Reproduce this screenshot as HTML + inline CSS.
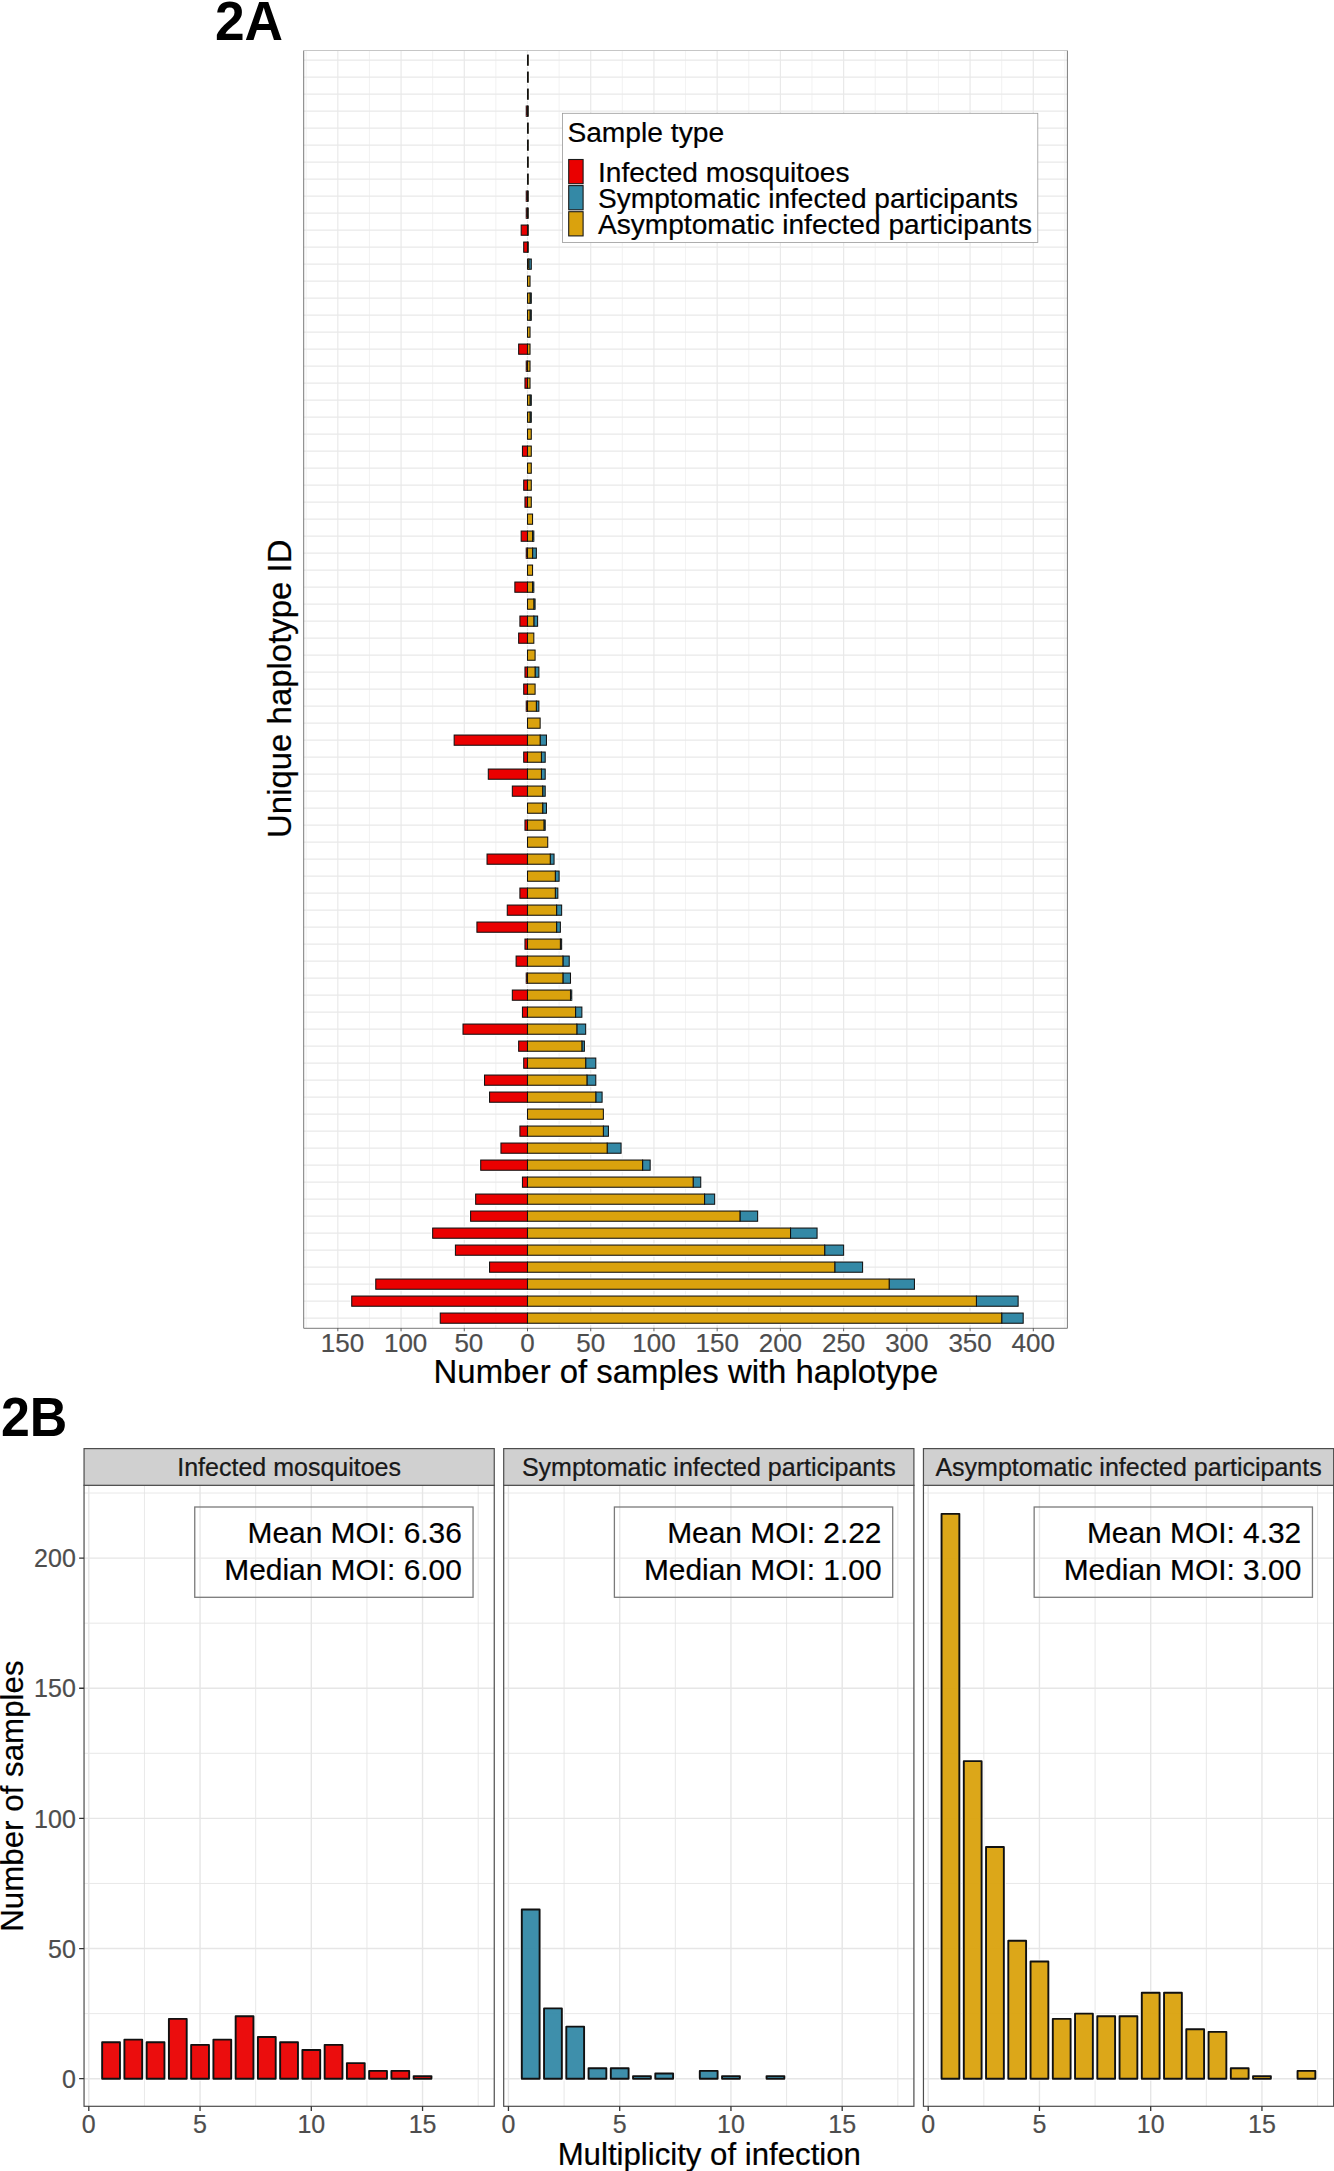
<!DOCTYPE html>
<html lang="en"><head><meta charset="utf-8"><title>Figure 2</title>
<style>
html,body{margin:0;padding:0;background:#fff;}
body{width:1334px;height:2171px;overflow:hidden;}
svg{display:block;font-family:"Liberation Sans", Arial, Helvetica, sans-serif;}
svg text{stroke:#000;stroke-width:0.2px;}
svg g.tk text{stroke:#4D4D4D;}

</style></head><body>
<svg width="1334" height="2171" viewBox="0 0 1334 2171">
<rect width="1334" height="2171" fill="#fff"/>
<rect x="303.7" y="50.5" width="763.70" height="1277.80" fill="#fff"/>
<path d="M306.21 50.5V1328.3M369.44 50.5V1328.3M432.66 50.5V1328.3M495.89 50.5V1328.3M559.11 50.5V1328.3M622.34 50.5V1328.3M685.56 50.5V1328.3M748.79 50.5V1328.3M812.01 50.5V1328.3M875.24 50.5V1328.3M938.46 50.5V1328.3M1001.69 50.5V1328.3M1064.91 50.5V1328.3" stroke="#E9E9E9" stroke-width="0.6" fill="none"/>
<path d="M337.83 50.5V1328.3M401.05 50.5V1328.3M464.27 50.5V1328.3M527.50 50.5V1328.3M590.73 50.5V1328.3M653.95 50.5V1328.3M717.17 50.5V1328.3M780.40 50.5V1328.3M843.62 50.5V1328.3M906.85 50.5V1328.3M970.08 50.5V1328.3M1033.30 50.5V1328.3M303.7 60.15H1067.4M303.7 77.15H1067.4M303.7 94.15H1067.4M303.7 111.15H1067.4M303.7 128.15H1067.4M303.7 145.15H1067.4M303.7 162.15H1067.4M303.7 179.15H1067.4M303.7 196.15H1067.4M303.7 213.15H1067.4M303.7 230.15H1067.4M303.7 247.15H1067.4M303.7 264.15H1067.4M303.7 281.15H1067.4M303.7 298.15H1067.4M303.7 315.15H1067.4M303.7 332.15H1067.4M303.7 349.15H1067.4M303.7 366.15H1067.4M303.7 383.15H1067.4M303.7 400.15H1067.4M303.7 417.15H1067.4M303.7 434.15H1067.4M303.7 451.15H1067.4M303.7 468.15H1067.4M303.7 485.15H1067.4M303.7 502.15H1067.4M303.7 519.15H1067.4M303.7 536.15H1067.4M303.7 553.15H1067.4M303.7 570.15H1067.4M303.7 587.15H1067.4M303.7 604.15H1067.4M303.7 621.15H1067.4M303.7 638.15H1067.4M303.7 655.15H1067.4M303.7 672.15H1067.4M303.7 689.15H1067.4M303.7 706.15H1067.4M303.7 723.15H1067.4M303.7 740.15H1067.4M303.7 757.15H1067.4M303.7 774.15H1067.4M303.7 791.15H1067.4M303.7 808.15H1067.4M303.7 825.15H1067.4M303.7 842.15H1067.4M303.7 859.15H1067.4M303.7 876.15H1067.4M303.7 893.15H1067.4M303.7 910.15H1067.4M303.7 927.15H1067.4M303.7 944.15H1067.4M303.7 961.15H1067.4M303.7 978.15H1067.4M303.7 995.15H1067.4M303.7 1012.15H1067.4M303.7 1029.15H1067.4M303.7 1046.15H1067.4M303.7 1063.15H1067.4M303.7 1080.15H1067.4M303.7 1097.15H1067.4M303.7 1114.15H1067.4M303.7 1131.15H1067.4M303.7 1148.15H1067.4M303.7 1165.15H1067.4M303.7 1182.15H1067.4M303.7 1199.15H1067.4M303.7 1216.15H1067.4M303.7 1233.15H1067.4M303.7 1250.15H1067.4M303.7 1267.15H1067.4M303.7 1284.15H1067.4M303.7 1301.15H1067.4M303.7 1318.15H1067.4" stroke="#E9E9E9" stroke-width="1.2" fill="none"/>
<g stroke="#fff" stroke-width="3.05" fill="#fff"><rect x="527.50" y="55.05" width="0.76" height="10.2"/><rect x="527.50" y="72.05" width="0.76" height="10.2"/><rect x="527.50" y="89.05" width="0.76" height="10.2"/><rect x="526.24" y="106.05" width="1.26" height="10.2"/><rect x="527.50" y="106.05" width="0.76" height="10.2"/><rect x="527.50" y="123.05" width="0.76" height="10.2"/><rect x="527.50" y="140.05" width="0.76" height="10.2"/><rect x="527.50" y="157.05" width="0.76" height="10.2"/><rect x="527.50" y="174.05" width="0.76" height="10.2"/><rect x="526.24" y="191.05" width="1.26" height="10.2"/><rect x="527.50" y="191.05" width="0.76" height="10.2"/><rect x="526.24" y="208.05" width="1.26" height="10.2"/><rect x="527.50" y="208.05" width="0.76" height="10.2"/><rect x="521.18" y="225.05" width="6.32" height="10.2"/><rect x="527.50" y="225.05" width="0.76" height="10.2"/><rect x="523.71" y="242.05" width="3.79" height="10.2"/><rect x="527.50" y="242.05" width="0.76" height="10.2"/><rect x="528.76" y="259.05" width="2.53" height="10.2"/><rect x="527.50" y="259.05" width="1.26" height="10.2"/><rect x="527.50" y="276.05" width="2.53" height="10.2"/><rect x="530.03" y="293.05" width="1.26" height="10.2"/><rect x="527.50" y="293.05" width="2.53" height="10.2"/><rect x="530.03" y="310.05" width="1.26" height="10.2"/><rect x="527.50" y="310.05" width="2.53" height="10.2"/><rect x="527.50" y="327.05" width="2.53" height="10.2"/><rect x="518.65" y="344.05" width="8.85" height="10.2"/><rect x="527.50" y="344.05" width="2.53" height="10.2"/><rect x="526.24" y="361.05" width="1.26" height="10.2"/><rect x="527.50" y="361.05" width="2.53" height="10.2"/><rect x="524.97" y="378.05" width="2.53" height="10.2"/><rect x="527.50" y="378.05" width="2.53" height="10.2"/><rect x="530.03" y="395.05" width="1.26" height="10.2"/><rect x="527.50" y="395.05" width="2.53" height="10.2"/><rect x="530.03" y="412.05" width="1.26" height="10.2"/><rect x="527.50" y="412.05" width="2.53" height="10.2"/><rect x="527.50" y="429.05" width="3.79" height="10.2"/><rect x="522.44" y="446.05" width="5.06" height="10.2"/><rect x="527.50" y="446.05" width="3.79" height="10.2"/><rect x="527.50" y="463.05" width="3.79" height="10.2"/><rect x="523.71" y="480.05" width="3.79" height="10.2"/><rect x="527.50" y="480.05" width="3.79" height="10.2"/><rect x="524.97" y="497.05" width="2.53" height="10.2"/><rect x="527.50" y="497.05" width="3.79" height="10.2"/><rect x="527.50" y="514.05" width="5.06" height="10.2"/><rect x="521.18" y="531.05" width="6.32" height="10.2"/><rect x="532.56" y="531.05" width="1.26" height="10.2"/><rect x="527.50" y="531.05" width="5.06" height="10.2"/><rect x="526.24" y="548.05" width="1.26" height="10.2"/><rect x="532.56" y="548.05" width="3.79" height="10.2"/><rect x="527.50" y="548.05" width="5.06" height="10.2"/><rect x="527.50" y="565.05" width="5.06" height="10.2"/><rect x="514.86" y="582.05" width="12.64" height="10.2"/><rect x="532.56" y="582.05" width="1.26" height="10.2"/><rect x="527.50" y="582.05" width="5.06" height="10.2"/><rect x="533.82" y="599.05" width="1.26" height="10.2"/><rect x="527.50" y="599.05" width="6.32" height="10.2"/><rect x="519.91" y="616.05" width="7.59" height="10.2"/><rect x="533.82" y="616.05" width="3.79" height="10.2"/><rect x="527.50" y="616.05" width="6.32" height="10.2"/><rect x="518.65" y="633.05" width="8.85" height="10.2"/><rect x="527.50" y="633.05" width="6.32" height="10.2"/><rect x="527.50" y="650.05" width="7.59" height="10.2"/><rect x="524.97" y="667.05" width="2.53" height="10.2"/><rect x="535.09" y="667.05" width="3.79" height="10.2"/><rect x="527.50" y="667.05" width="7.59" height="10.2"/><rect x="523.71" y="684.05" width="3.79" height="10.2"/><rect x="527.50" y="684.05" width="7.59" height="10.2"/><rect x="526.24" y="701.05" width="1.26" height="10.2"/><rect x="536.35" y="701.05" width="2.53" height="10.2"/><rect x="527.50" y="701.05" width="8.85" height="10.2"/><rect x="527.50" y="718.05" width="12.64" height="10.2"/><rect x="454.16" y="735.05" width="73.34" height="10.2"/><rect x="540.14" y="735.05" width="6.32" height="10.2"/><rect x="527.50" y="735.05" width="12.64" height="10.2"/><rect x="523.71" y="752.05" width="3.79" height="10.2"/><rect x="541.41" y="752.05" width="3.79" height="10.2"/><rect x="527.50" y="752.05" width="13.91" height="10.2"/><rect x="488.30" y="769.05" width="39.20" height="10.2"/><rect x="541.41" y="769.05" width="3.79" height="10.2"/><rect x="527.50" y="769.05" width="13.91" height="10.2"/><rect x="512.33" y="786.05" width="15.17" height="10.2"/><rect x="542.67" y="786.05" width="2.53" height="10.2"/><rect x="527.50" y="786.05" width="15.17" height="10.2"/><rect x="542.67" y="803.05" width="3.79" height="10.2"/><rect x="527.50" y="803.05" width="15.17" height="10.2"/><rect x="524.97" y="820.05" width="2.53" height="10.2"/><rect x="543.94" y="820.05" width="1.26" height="10.2"/><rect x="527.50" y="820.05" width="16.44" height="10.2"/><rect x="527.50" y="837.05" width="20.23" height="10.2"/><rect x="487.04" y="854.05" width="40.46" height="10.2"/><rect x="550.26" y="854.05" width="3.79" height="10.2"/><rect x="527.50" y="854.05" width="22.76" height="10.2"/><rect x="555.32" y="871.05" width="3.79" height="10.2"/><rect x="527.50" y="871.05" width="27.82" height="10.2"/><rect x="519.91" y="888.05" width="7.59" height="10.2"/><rect x="555.32" y="888.05" width="2.53" height="10.2"/><rect x="527.50" y="888.05" width="27.82" height="10.2"/><rect x="507.27" y="905.05" width="20.23" height="10.2"/><rect x="556.58" y="905.05" width="5.06" height="10.2"/><rect x="527.50" y="905.05" width="29.08" height="10.2"/><rect x="476.92" y="922.05" width="50.58" height="10.2"/><rect x="556.58" y="922.05" width="3.79" height="10.2"/><rect x="527.50" y="922.05" width="29.08" height="10.2"/><rect x="524.97" y="939.05" width="2.53" height="10.2"/><rect x="560.38" y="939.05" width="1.26" height="10.2"/><rect x="527.50" y="939.05" width="32.88" height="10.2"/><rect x="516.12" y="956.05" width="11.38" height="10.2"/><rect x="562.91" y="956.05" width="6.32" height="10.2"/><rect x="527.50" y="956.05" width="35.41" height="10.2"/><rect x="526.24" y="973.05" width="1.26" height="10.2"/><rect x="562.91" y="973.05" width="7.59" height="10.2"/><rect x="527.50" y="973.05" width="35.41" height="10.2"/><rect x="512.33" y="990.05" width="15.17" height="10.2"/><rect x="570.49" y="990.05" width="1.26" height="10.2"/><rect x="527.50" y="990.05" width="42.99" height="10.2"/><rect x="522.44" y="1007.05" width="5.06" height="10.2"/><rect x="575.55" y="1007.05" width="6.32" height="10.2"/><rect x="527.50" y="1007.05" width="48.05" height="10.2"/><rect x="463.01" y="1024.05" width="64.49" height="10.2"/><rect x="576.82" y="1024.05" width="8.85" height="10.2"/><rect x="527.50" y="1024.05" width="49.32" height="10.2"/><rect x="518.65" y="1041.05" width="8.85" height="10.2"/><rect x="581.87" y="1041.05" width="2.53" height="10.2"/><rect x="527.50" y="1041.05" width="54.37" height="10.2"/><rect x="523.71" y="1058.05" width="3.79" height="10.2"/><rect x="585.67" y="1058.05" width="10.12" height="10.2"/><rect x="527.50" y="1058.05" width="58.17" height="10.2"/><rect x="484.51" y="1075.05" width="42.99" height="10.2"/><rect x="586.93" y="1075.05" width="8.85" height="10.2"/><rect x="527.50" y="1075.05" width="59.43" height="10.2"/><rect x="489.56" y="1092.05" width="37.94" height="10.2"/><rect x="595.78" y="1092.05" width="6.32" height="10.2"/><rect x="527.50" y="1092.05" width="68.28" height="10.2"/><rect x="527.50" y="1109.05" width="75.87" height="10.2"/><rect x="519.91" y="1126.05" width="7.59" height="10.2"/><rect x="603.37" y="1126.05" width="5.06" height="10.2"/><rect x="527.50" y="1126.05" width="75.87" height="10.2"/><rect x="500.95" y="1143.05" width="26.55" height="10.2"/><rect x="607.16" y="1143.05" width="13.91" height="10.2"/><rect x="527.50" y="1143.05" width="79.66" height="10.2"/><rect x="480.71" y="1160.05" width="46.79" height="10.2"/><rect x="642.57" y="1160.05" width="7.59" height="10.2"/><rect x="527.50" y="1160.05" width="115.07" height="10.2"/><rect x="522.44" y="1177.05" width="5.06" height="10.2"/><rect x="693.15" y="1177.05" width="7.59" height="10.2"/><rect x="527.50" y="1177.05" width="165.65" height="10.2"/><rect x="475.66" y="1194.05" width="51.84" height="10.2"/><rect x="704.53" y="1194.05" width="10.12" height="10.2"/><rect x="527.50" y="1194.05" width="177.03" height="10.2"/><rect x="470.60" y="1211.05" width="56.90" height="10.2"/><rect x="739.94" y="1211.05" width="17.70" height="10.2"/><rect x="527.50" y="1211.05" width="212.44" height="10.2"/><rect x="432.66" y="1228.05" width="94.84" height="10.2"/><rect x="790.52" y="1228.05" width="26.55" height="10.2"/><rect x="527.50" y="1228.05" width="263.02" height="10.2"/><rect x="455.42" y="1245.05" width="72.08" height="10.2"/><rect x="824.66" y="1245.05" width="18.97" height="10.2"/><rect x="527.50" y="1245.05" width="297.16" height="10.2"/><rect x="489.56" y="1262.05" width="37.94" height="10.2"/><rect x="834.77" y="1262.05" width="27.82" height="10.2"/><rect x="527.50" y="1262.05" width="307.27" height="10.2"/><rect x="375.76" y="1279.05" width="151.74" height="10.2"/><rect x="889.15" y="1279.05" width="25.29" height="10.2"/><rect x="527.50" y="1279.05" width="361.65" height="10.2"/><rect x="351.73" y="1296.05" width="175.77" height="10.2"/><rect x="976.40" y="1296.05" width="41.73" height="10.2"/><rect x="527.50" y="1296.05" width="448.90" height="10.2"/><rect x="440.25" y="1313.05" width="87.25" height="10.2"/><rect x="1001.69" y="1313.05" width="21.50" height="10.2"/><rect x="527.50" y="1313.05" width="474.19" height="10.2"/></g>
<g stroke="#111" stroke-width="1.05"><rect x="527.50" y="55.05" width="0.76" height="10.2" fill="#DAA20D"/><rect x="527.50" y="72.05" width="0.76" height="10.2" fill="#DAA20D"/><rect x="527.50" y="89.05" width="0.76" height="10.2" fill="#DAA20D"/><rect x="526.24" y="106.05" width="1.26" height="10.2" fill="#EA0000"/><rect x="527.50" y="106.05" width="0.76" height="10.2" fill="#DAA20D"/><rect x="527.50" y="123.05" width="0.76" height="10.2" fill="#DAA20D"/><rect x="527.50" y="140.05" width="0.76" height="10.2" fill="#DAA20D"/><rect x="527.50" y="157.05" width="0.76" height="10.2" fill="#DAA20D"/><rect x="527.50" y="174.05" width="0.76" height="10.2" fill="#DAA20D"/><rect x="526.24" y="191.05" width="1.26" height="10.2" fill="#EA0000"/><rect x="527.50" y="191.05" width="0.76" height="10.2" fill="#DAA20D"/><rect x="526.24" y="208.05" width="1.26" height="10.2" fill="#EA0000"/><rect x="527.50" y="208.05" width="0.76" height="10.2" fill="#DAA20D"/><rect x="521.18" y="225.05" width="6.32" height="10.2" fill="#EA0000"/><rect x="527.50" y="225.05" width="0.76" height="10.2" fill="#DAA20D"/><rect x="523.71" y="242.05" width="3.79" height="10.2" fill="#EA0000"/><rect x="527.50" y="242.05" width="0.76" height="10.2" fill="#DAA20D"/><rect x="528.76" y="259.05" width="2.53" height="10.2" fill="#3489A6"/><rect x="527.50" y="259.05" width="1.26" height="10.2" fill="#DAA20D"/><rect x="527.50" y="276.05" width="2.53" height="10.2" fill="#DAA20D"/><rect x="530.03" y="293.05" width="1.26" height="10.2" fill="#3489A6"/><rect x="527.50" y="293.05" width="2.53" height="10.2" fill="#DAA20D"/><rect x="530.03" y="310.05" width="1.26" height="10.2" fill="#3489A6"/><rect x="527.50" y="310.05" width="2.53" height="10.2" fill="#DAA20D"/><rect x="527.50" y="327.05" width="2.53" height="10.2" fill="#DAA20D"/><rect x="518.65" y="344.05" width="8.85" height="10.2" fill="#EA0000"/><rect x="527.50" y="344.05" width="2.53" height="10.2" fill="#DAA20D"/><rect x="526.24" y="361.05" width="1.26" height="10.2" fill="#EA0000"/><rect x="527.50" y="361.05" width="2.53" height="10.2" fill="#DAA20D"/><rect x="524.97" y="378.05" width="2.53" height="10.2" fill="#EA0000"/><rect x="527.50" y="378.05" width="2.53" height="10.2" fill="#DAA20D"/><rect x="530.03" y="395.05" width="1.26" height="10.2" fill="#3489A6"/><rect x="527.50" y="395.05" width="2.53" height="10.2" fill="#DAA20D"/><rect x="530.03" y="412.05" width="1.26" height="10.2" fill="#3489A6"/><rect x="527.50" y="412.05" width="2.53" height="10.2" fill="#DAA20D"/><rect x="527.50" y="429.05" width="3.79" height="10.2" fill="#DAA20D"/><rect x="522.44" y="446.05" width="5.06" height="10.2" fill="#EA0000"/><rect x="527.50" y="446.05" width="3.79" height="10.2" fill="#DAA20D"/><rect x="527.50" y="463.05" width="3.79" height="10.2" fill="#DAA20D"/><rect x="523.71" y="480.05" width="3.79" height="10.2" fill="#EA0000"/><rect x="527.50" y="480.05" width="3.79" height="10.2" fill="#DAA20D"/><rect x="524.97" y="497.05" width="2.53" height="10.2" fill="#EA0000"/><rect x="527.50" y="497.05" width="3.79" height="10.2" fill="#DAA20D"/><rect x="527.50" y="514.05" width="5.06" height="10.2" fill="#DAA20D"/><rect x="521.18" y="531.05" width="6.32" height="10.2" fill="#EA0000"/><rect x="532.56" y="531.05" width="1.26" height="10.2" fill="#3489A6"/><rect x="527.50" y="531.05" width="5.06" height="10.2" fill="#DAA20D"/><rect x="526.24" y="548.05" width="1.26" height="10.2" fill="#EA0000"/><rect x="532.56" y="548.05" width="3.79" height="10.2" fill="#3489A6"/><rect x="527.50" y="548.05" width="5.06" height="10.2" fill="#DAA20D"/><rect x="527.50" y="565.05" width="5.06" height="10.2" fill="#DAA20D"/><rect x="514.86" y="582.05" width="12.64" height="10.2" fill="#EA0000"/><rect x="532.56" y="582.05" width="1.26" height="10.2" fill="#3489A6"/><rect x="527.50" y="582.05" width="5.06" height="10.2" fill="#DAA20D"/><rect x="533.82" y="599.05" width="1.26" height="10.2" fill="#3489A6"/><rect x="527.50" y="599.05" width="6.32" height="10.2" fill="#DAA20D"/><rect x="519.91" y="616.05" width="7.59" height="10.2" fill="#EA0000"/><rect x="533.82" y="616.05" width="3.79" height="10.2" fill="#3489A6"/><rect x="527.50" y="616.05" width="6.32" height="10.2" fill="#DAA20D"/><rect x="518.65" y="633.05" width="8.85" height="10.2" fill="#EA0000"/><rect x="527.50" y="633.05" width="6.32" height="10.2" fill="#DAA20D"/><rect x="527.50" y="650.05" width="7.59" height="10.2" fill="#DAA20D"/><rect x="524.97" y="667.05" width="2.53" height="10.2" fill="#EA0000"/><rect x="535.09" y="667.05" width="3.79" height="10.2" fill="#3489A6"/><rect x="527.50" y="667.05" width="7.59" height="10.2" fill="#DAA20D"/><rect x="523.71" y="684.05" width="3.79" height="10.2" fill="#EA0000"/><rect x="527.50" y="684.05" width="7.59" height="10.2" fill="#DAA20D"/><rect x="526.24" y="701.05" width="1.26" height="10.2" fill="#EA0000"/><rect x="536.35" y="701.05" width="2.53" height="10.2" fill="#3489A6"/><rect x="527.50" y="701.05" width="8.85" height="10.2" fill="#DAA20D"/><rect x="527.50" y="718.05" width="12.64" height="10.2" fill="#DAA20D"/><rect x="454.16" y="735.05" width="73.34" height="10.2" fill="#EA0000"/><rect x="540.14" y="735.05" width="6.32" height="10.2" fill="#3489A6"/><rect x="527.50" y="735.05" width="12.64" height="10.2" fill="#DAA20D"/><rect x="523.71" y="752.05" width="3.79" height="10.2" fill="#EA0000"/><rect x="541.41" y="752.05" width="3.79" height="10.2" fill="#3489A6"/><rect x="527.50" y="752.05" width="13.91" height="10.2" fill="#DAA20D"/><rect x="488.30" y="769.05" width="39.20" height="10.2" fill="#EA0000"/><rect x="541.41" y="769.05" width="3.79" height="10.2" fill="#3489A6"/><rect x="527.50" y="769.05" width="13.91" height="10.2" fill="#DAA20D"/><rect x="512.33" y="786.05" width="15.17" height="10.2" fill="#EA0000"/><rect x="542.67" y="786.05" width="2.53" height="10.2" fill="#3489A6"/><rect x="527.50" y="786.05" width="15.17" height="10.2" fill="#DAA20D"/><rect x="542.67" y="803.05" width="3.79" height="10.2" fill="#3489A6"/><rect x="527.50" y="803.05" width="15.17" height="10.2" fill="#DAA20D"/><rect x="524.97" y="820.05" width="2.53" height="10.2" fill="#EA0000"/><rect x="543.94" y="820.05" width="1.26" height="10.2" fill="#3489A6"/><rect x="527.50" y="820.05" width="16.44" height="10.2" fill="#DAA20D"/><rect x="527.50" y="837.05" width="20.23" height="10.2" fill="#DAA20D"/><rect x="487.04" y="854.05" width="40.46" height="10.2" fill="#EA0000"/><rect x="550.26" y="854.05" width="3.79" height="10.2" fill="#3489A6"/><rect x="527.50" y="854.05" width="22.76" height="10.2" fill="#DAA20D"/><rect x="555.32" y="871.05" width="3.79" height="10.2" fill="#3489A6"/><rect x="527.50" y="871.05" width="27.82" height="10.2" fill="#DAA20D"/><rect x="519.91" y="888.05" width="7.59" height="10.2" fill="#EA0000"/><rect x="555.32" y="888.05" width="2.53" height="10.2" fill="#3489A6"/><rect x="527.50" y="888.05" width="27.82" height="10.2" fill="#DAA20D"/><rect x="507.27" y="905.05" width="20.23" height="10.2" fill="#EA0000"/><rect x="556.58" y="905.05" width="5.06" height="10.2" fill="#3489A6"/><rect x="527.50" y="905.05" width="29.08" height="10.2" fill="#DAA20D"/><rect x="476.92" y="922.05" width="50.58" height="10.2" fill="#EA0000"/><rect x="556.58" y="922.05" width="3.79" height="10.2" fill="#3489A6"/><rect x="527.50" y="922.05" width="29.08" height="10.2" fill="#DAA20D"/><rect x="524.97" y="939.05" width="2.53" height="10.2" fill="#EA0000"/><rect x="560.38" y="939.05" width="1.26" height="10.2" fill="#3489A6"/><rect x="527.50" y="939.05" width="32.88" height="10.2" fill="#DAA20D"/><rect x="516.12" y="956.05" width="11.38" height="10.2" fill="#EA0000"/><rect x="562.91" y="956.05" width="6.32" height="10.2" fill="#3489A6"/><rect x="527.50" y="956.05" width="35.41" height="10.2" fill="#DAA20D"/><rect x="526.24" y="973.05" width="1.26" height="10.2" fill="#EA0000"/><rect x="562.91" y="973.05" width="7.59" height="10.2" fill="#3489A6"/><rect x="527.50" y="973.05" width="35.41" height="10.2" fill="#DAA20D"/><rect x="512.33" y="990.05" width="15.17" height="10.2" fill="#EA0000"/><rect x="570.49" y="990.05" width="1.26" height="10.2" fill="#3489A6"/><rect x="527.50" y="990.05" width="42.99" height="10.2" fill="#DAA20D"/><rect x="522.44" y="1007.05" width="5.06" height="10.2" fill="#EA0000"/><rect x="575.55" y="1007.05" width="6.32" height="10.2" fill="#3489A6"/><rect x="527.50" y="1007.05" width="48.05" height="10.2" fill="#DAA20D"/><rect x="463.01" y="1024.05" width="64.49" height="10.2" fill="#EA0000"/><rect x="576.82" y="1024.05" width="8.85" height="10.2" fill="#3489A6"/><rect x="527.50" y="1024.05" width="49.32" height="10.2" fill="#DAA20D"/><rect x="518.65" y="1041.05" width="8.85" height="10.2" fill="#EA0000"/><rect x="581.87" y="1041.05" width="2.53" height="10.2" fill="#3489A6"/><rect x="527.50" y="1041.05" width="54.37" height="10.2" fill="#DAA20D"/><rect x="523.71" y="1058.05" width="3.79" height="10.2" fill="#EA0000"/><rect x="585.67" y="1058.05" width="10.12" height="10.2" fill="#3489A6"/><rect x="527.50" y="1058.05" width="58.17" height="10.2" fill="#DAA20D"/><rect x="484.51" y="1075.05" width="42.99" height="10.2" fill="#EA0000"/><rect x="586.93" y="1075.05" width="8.85" height="10.2" fill="#3489A6"/><rect x="527.50" y="1075.05" width="59.43" height="10.2" fill="#DAA20D"/><rect x="489.56" y="1092.05" width="37.94" height="10.2" fill="#EA0000"/><rect x="595.78" y="1092.05" width="6.32" height="10.2" fill="#3489A6"/><rect x="527.50" y="1092.05" width="68.28" height="10.2" fill="#DAA20D"/><rect x="527.50" y="1109.05" width="75.87" height="10.2" fill="#DAA20D"/><rect x="519.91" y="1126.05" width="7.59" height="10.2" fill="#EA0000"/><rect x="603.37" y="1126.05" width="5.06" height="10.2" fill="#3489A6"/><rect x="527.50" y="1126.05" width="75.87" height="10.2" fill="#DAA20D"/><rect x="500.95" y="1143.05" width="26.55" height="10.2" fill="#EA0000"/><rect x="607.16" y="1143.05" width="13.91" height="10.2" fill="#3489A6"/><rect x="527.50" y="1143.05" width="79.66" height="10.2" fill="#DAA20D"/><rect x="480.71" y="1160.05" width="46.79" height="10.2" fill="#EA0000"/><rect x="642.57" y="1160.05" width="7.59" height="10.2" fill="#3489A6"/><rect x="527.50" y="1160.05" width="115.07" height="10.2" fill="#DAA20D"/><rect x="522.44" y="1177.05" width="5.06" height="10.2" fill="#EA0000"/><rect x="693.15" y="1177.05" width="7.59" height="10.2" fill="#3489A6"/><rect x="527.50" y="1177.05" width="165.65" height="10.2" fill="#DAA20D"/><rect x="475.66" y="1194.05" width="51.84" height="10.2" fill="#EA0000"/><rect x="704.53" y="1194.05" width="10.12" height="10.2" fill="#3489A6"/><rect x="527.50" y="1194.05" width="177.03" height="10.2" fill="#DAA20D"/><rect x="470.60" y="1211.05" width="56.90" height="10.2" fill="#EA0000"/><rect x="739.94" y="1211.05" width="17.70" height="10.2" fill="#3489A6"/><rect x="527.50" y="1211.05" width="212.44" height="10.2" fill="#DAA20D"/><rect x="432.66" y="1228.05" width="94.84" height="10.2" fill="#EA0000"/><rect x="790.52" y="1228.05" width="26.55" height="10.2" fill="#3489A6"/><rect x="527.50" y="1228.05" width="263.02" height="10.2" fill="#DAA20D"/><rect x="455.42" y="1245.05" width="72.08" height="10.2" fill="#EA0000"/><rect x="824.66" y="1245.05" width="18.97" height="10.2" fill="#3489A6"/><rect x="527.50" y="1245.05" width="297.16" height="10.2" fill="#DAA20D"/><rect x="489.56" y="1262.05" width="37.94" height="10.2" fill="#EA0000"/><rect x="834.77" y="1262.05" width="27.82" height="10.2" fill="#3489A6"/><rect x="527.50" y="1262.05" width="307.27" height="10.2" fill="#DAA20D"/><rect x="375.76" y="1279.05" width="151.74" height="10.2" fill="#EA0000"/><rect x="889.15" y="1279.05" width="25.29" height="10.2" fill="#3489A6"/><rect x="527.50" y="1279.05" width="361.65" height="10.2" fill="#DAA20D"/><rect x="351.73" y="1296.05" width="175.77" height="10.2" fill="#EA0000"/><rect x="976.40" y="1296.05" width="41.73" height="10.2" fill="#3489A6"/><rect x="527.50" y="1296.05" width="448.90" height="10.2" fill="#DAA20D"/><rect x="440.25" y="1313.05" width="87.25" height="10.2" fill="#EA0000"/><rect x="1001.69" y="1313.05" width="21.50" height="10.2" fill="#3489A6"/><rect x="527.50" y="1313.05" width="474.19" height="10.2" fill="#DAA20D"/></g>
<path d="M303.7 50.5V1328.3H1067.4V50.5" fill="none" stroke="#7A7A7A" stroke-width="1"/>
<path d="M303.7 50.5H1067.4" fill="none" stroke="#C6C6C6" stroke-width="1"/>
<path d="M337.83 1328.3v3M401.05 1328.3v3M464.27 1328.3v3M527.50 1328.3v3M590.73 1328.3v3M653.95 1328.3v3M717.17 1328.3v3M780.40 1328.3v3M843.62 1328.3v3M906.85 1328.3v3M970.08 1328.3v3M1033.30 1328.3v3" stroke="#333" stroke-width="0.8" fill="none"/>
<g font-size="26" class="tk" fill="#4D4D4D" text-anchor="middle"><text x="342.43" y="1352">150</text><text x="405.65" y="1352">100</text><text x="468.88" y="1352">50</text><text x="527.50" y="1352">0</text><text x="590.73" y="1352">50</text><text x="653.95" y="1352">100</text><text x="717.17" y="1352">150</text><text x="780.40" y="1352">200</text><text x="843.62" y="1352">250</text><text x="906.85" y="1352">300</text><text x="970.08" y="1352">350</text><text x="1033.30" y="1352">400</text></g>
<text x="685.9" y="1383.1" font-size="32.9" text-anchor="middle">Number of samples with haplotype</text>
<text transform="translate(290.7 688.7) rotate(-90)" font-size="32.95" text-anchor="middle">Unique haplotype ID</text>
<text transform="translate(215 39.8) scale(0.965 1)" font-size="55.2" font-weight="bold" stroke="none" style="stroke:none">2A</text>
<rect x="562.5" y="113.3" width="475.3" height="129.1" fill="#fff" stroke="#999" stroke-width="0.8"/>
<text x="567.4" y="142" font-size="28.2">Sample type</text>
<rect x="568.7" y="159.50" width="14.4" height="24.2" fill="#EA0000" stroke="#1a1a1a" stroke-width="1.1"/>
<text x="598.0" y="181.70" font-size="28.1">Infected mosquitoes</text>
<rect x="568.7" y="185.60" width="14.4" height="24.2" fill="#3489A6" stroke="#1a1a1a" stroke-width="1.1"/>
<text x="598.0" y="207.75" font-size="28.1">Symptomatic infected participants</text>
<rect x="568.7" y="211.70" width="14.4" height="24.2" fill="#DAA20D" stroke="#1a1a1a" stroke-width="1.1"/>
<text x="598.0" y="233.80" font-size="28.1">Asymptomatic infected participants</text>
<text transform="translate(0.9 1436.4) scale(0.94 1)" font-size="55.2" font-weight="bold" style="stroke:none">2B</text>
<rect x="84.05" y="1485.3" width="410.2" height="621.00" fill="#fff"/>
<path d="M144.43 1485.3V2106.3M255.68 1485.3V2106.3M366.93 1485.3V2106.3M478.18 1485.3V2106.3M84.05 2013.62H494.25M84.05 1883.47H494.25M84.05 1753.32H494.25M84.05 1623.17H494.25M84.05 1493.02H494.25" stroke="#E2E2E2" stroke-width="0.8" fill="none"/>
<path d="M88.80 1485.3V2106.3M200.05 1485.3V2106.3M311.30 1485.3V2106.3M422.55 1485.3V2106.3M84.05 2078.70H494.25M84.05 1948.55H494.25M84.05 1818.40H494.25M84.05 1688.25H494.25M84.05 1558.10H494.25" stroke="#E6E6E6" stroke-width="1.4" fill="none"/>
<g fill="none" stroke="#fff" stroke-width="3.9"><rect x="102.15" y="2042.26" width="17.8" height="36.44"/><rect x="124.40" y="2039.65" width="17.8" height="39.05"/><rect x="146.65" y="2042.26" width="17.8" height="36.44"/><rect x="168.90" y="2018.83" width="17.8" height="59.87"/><rect x="191.15" y="2044.86" width="17.8" height="33.84"/><rect x="213.40" y="2039.65" width="17.8" height="39.05"/><rect x="235.65" y="2016.23" width="17.8" height="62.47"/><rect x="257.90" y="2037.05" width="17.8" height="41.65"/><rect x="280.15" y="2042.26" width="17.8" height="36.44"/><rect x="302.40" y="2050.07" width="17.8" height="28.63"/><rect x="324.65" y="2044.86" width="17.8" height="33.84"/><rect x="346.90" y="2063.08" width="17.8" height="15.62"/><rect x="369.15" y="2070.89" width="17.8" height="7.81"/><rect x="391.40" y="2070.89" width="17.8" height="7.81"/><rect x="413.65" y="2076.10" width="17.8" height="2.60"/></g>
<g fill="#EA0000" fill-opacity="0.95" stroke="#111" stroke-width="1.9" stroke-linejoin="round"><rect x="102.15" y="2042.26" width="17.8" height="36.44"/><rect x="124.40" y="2039.65" width="17.8" height="39.05"/><rect x="146.65" y="2042.26" width="17.8" height="36.44"/><rect x="168.90" y="2018.83" width="17.8" height="59.87"/><rect x="191.15" y="2044.86" width="17.8" height="33.84"/><rect x="213.40" y="2039.65" width="17.8" height="39.05"/><rect x="235.65" y="2016.23" width="17.8" height="62.47"/><rect x="257.90" y="2037.05" width="17.8" height="41.65"/><rect x="280.15" y="2042.26" width="17.8" height="36.44"/><rect x="302.40" y="2050.07" width="17.8" height="28.63"/><rect x="324.65" y="2044.86" width="17.8" height="33.84"/><rect x="346.90" y="2063.08" width="17.8" height="15.62"/><rect x="369.15" y="2070.89" width="17.8" height="7.81"/><rect x="391.40" y="2070.89" width="17.8" height="7.81"/><rect x="413.65" y="2076.10" width="17.8" height="2.60"/></g>
<rect x="194.75" y="1507" width="278.3" height="90.3" fill="#fff" fill-opacity="0.15" stroke="#7a7a7a" stroke-width="1.3"/>
<text x="461.85" y="1543.3" font-size="29.9" text-anchor="end">Mean MOI: 6.36</text>
<text x="461.85" y="1580" font-size="29.9" text-anchor="end">Median MOI: 6.00</text>
<rect x="84.05" y="1485.3" width="410.2" height="621.00" fill="none" stroke="#4d4d4d" stroke-width="1.2"/>
<rect x="84.05" y="1448.6" width="410.2" height="36.70" fill="#D0D0D0" stroke="#4d4d4d" stroke-width="1.2"/>
<text x="289.15" y="1475.6" font-size="25.0" fill="#1A1A1A" text-anchor="middle">Infected mosquitoes</text>
<path d="M88.80 2106.3v4.6M200.05 2106.3v4.6M311.30 2106.3v4.6M422.55 2106.3v4.6" stroke="#333" stroke-width="1.3" fill="none"/>
<g font-size="25" class="tk" fill="#4D4D4D" text-anchor="middle"><text x="88.80" y="2132.8">0</text><text x="200.05" y="2132.8">5</text><text x="311.30" y="2132.8">10</text><text x="422.55" y="2132.8">15</text></g>
<rect x="503.7" y="1485.3" width="410.2" height="621.00" fill="#fff"/>
<path d="M564.08 1485.3V2106.3M675.33 1485.3V2106.3M786.58 1485.3V2106.3M897.83 1485.3V2106.3M503.7 2013.62H913.9M503.7 1883.47H913.9M503.7 1753.32H913.9M503.7 1623.17H913.9M503.7 1493.02H913.9" stroke="#E2E2E2" stroke-width="0.8" fill="none"/>
<path d="M508.45 1485.3V2106.3M619.70 1485.3V2106.3M730.95 1485.3V2106.3M842.20 1485.3V2106.3M503.7 2078.70H913.9M503.7 1948.55H913.9M503.7 1818.40H913.9M503.7 1688.25H913.9M503.7 1558.10H913.9" stroke="#E6E6E6" stroke-width="1.4" fill="none"/>
<g fill="none" stroke="#fff" stroke-width="3.9"><rect x="521.80" y="1909.50" width="17.8" height="169.20"/><rect x="544.05" y="2008.42" width="17.8" height="70.28"/><rect x="566.30" y="2026.64" width="17.8" height="52.06"/><rect x="588.55" y="2068.29" width="17.8" height="10.41"/><rect x="610.80" y="2068.29" width="17.8" height="10.41"/><rect x="633.05" y="2076.10" width="17.8" height="2.60"/><rect x="655.30" y="2073.49" width="17.8" height="5.21"/><rect x="699.80" y="2070.89" width="17.8" height="7.81"/><rect x="722.05" y="2076.10" width="17.8" height="2.60"/><rect x="766.55" y="2076.10" width="17.8" height="2.60"/></g>
<g fill="#3489A6" fill-opacity="0.95" stroke="#111" stroke-width="1.9" stroke-linejoin="round"><rect x="521.80" y="1909.50" width="17.8" height="169.20"/><rect x="544.05" y="2008.42" width="17.8" height="70.28"/><rect x="566.30" y="2026.64" width="17.8" height="52.06"/><rect x="588.55" y="2068.29" width="17.8" height="10.41"/><rect x="610.80" y="2068.29" width="17.8" height="10.41"/><rect x="633.05" y="2076.10" width="17.8" height="2.60"/><rect x="655.30" y="2073.49" width="17.8" height="5.21"/><rect x="699.80" y="2070.89" width="17.8" height="7.81"/><rect x="722.05" y="2076.10" width="17.8" height="2.60"/><rect x="766.55" y="2076.10" width="17.8" height="2.60"/></g>
<rect x="614.40" y="1507" width="278.3" height="90.3" fill="#fff" fill-opacity="0.15" stroke="#7a7a7a" stroke-width="1.3"/>
<text x="881.50" y="1543.3" font-size="29.9" text-anchor="end">Mean MOI: 2.22</text>
<text x="881.50" y="1580" font-size="29.9" text-anchor="end">Median MOI: 1.00</text>
<rect x="503.7" y="1485.3" width="410.2" height="621.00" fill="none" stroke="#4d4d4d" stroke-width="1.2"/>
<rect x="503.7" y="1448.6" width="410.2" height="36.70" fill="#D0D0D0" stroke="#4d4d4d" stroke-width="1.2"/>
<text x="708.80" y="1475.6" font-size="25.0" fill="#1A1A1A" text-anchor="middle">Symptomatic infected participants</text>
<path d="M508.45 2106.3v4.6M619.70 2106.3v4.6M730.95 2106.3v4.6M842.20 2106.3v4.6" stroke="#333" stroke-width="1.3" fill="none"/>
<g font-size="25" class="tk" fill="#4D4D4D" text-anchor="middle"><text x="508.45" y="2132.8">0</text><text x="619.70" y="2132.8">5</text><text x="730.95" y="2132.8">10</text><text x="842.20" y="2132.8">15</text></g>
<rect x="923.45" y="1485.3" width="410.2" height="621.00" fill="#fff"/>
<path d="M983.83 1485.3V2106.3M1095.08 1485.3V2106.3M1206.33 1485.3V2106.3M1317.58 1485.3V2106.3M923.45 2013.62H1333.65M923.45 1883.47H1333.65M923.45 1753.32H1333.65M923.45 1623.17H1333.65M923.45 1493.02H1333.65" stroke="#E2E2E2" stroke-width="0.8" fill="none"/>
<path d="M928.20 1485.3V2106.3M1039.45 1485.3V2106.3M1150.70 1485.3V2106.3M1261.95 1485.3V2106.3M923.45 2078.70H1333.65M923.45 1948.55H1333.65M923.45 1818.40H1333.65M923.45 1688.25H1333.65M923.45 1558.10H1333.65" stroke="#E6E6E6" stroke-width="1.4" fill="none"/>
<g fill="none" stroke="#fff" stroke-width="3.9"><rect x="941.55" y="1513.85" width="17.8" height="564.85"/><rect x="963.80" y="1761.13" width="17.8" height="317.57"/><rect x="986.05" y="1847.03" width="17.8" height="231.67"/><rect x="1008.30" y="1940.74" width="17.8" height="137.96"/><rect x="1030.55" y="1961.56" width="17.8" height="117.14"/><rect x="1052.80" y="2018.83" width="17.8" height="59.87"/><rect x="1075.05" y="2013.62" width="17.8" height="65.08"/><rect x="1097.30" y="2016.23" width="17.8" height="62.47"/><rect x="1119.55" y="2016.23" width="17.8" height="62.47"/><rect x="1141.80" y="1992.80" width="17.8" height="85.90"/><rect x="1164.05" y="1992.80" width="17.8" height="85.90"/><rect x="1186.30" y="2029.24" width="17.8" height="49.46"/><rect x="1208.55" y="2031.85" width="17.8" height="46.85"/><rect x="1230.80" y="2068.29" width="17.8" height="10.41"/><rect x="1253.05" y="2076.10" width="17.8" height="2.60"/><rect x="1297.55" y="2070.89" width="17.8" height="7.81"/></g>
<g fill="#DAA20D" fill-opacity="0.95" stroke="#111" stroke-width="1.9" stroke-linejoin="round"><rect x="941.55" y="1513.85" width="17.8" height="564.85"/><rect x="963.80" y="1761.13" width="17.8" height="317.57"/><rect x="986.05" y="1847.03" width="17.8" height="231.67"/><rect x="1008.30" y="1940.74" width="17.8" height="137.96"/><rect x="1030.55" y="1961.56" width="17.8" height="117.14"/><rect x="1052.80" y="2018.83" width="17.8" height="59.87"/><rect x="1075.05" y="2013.62" width="17.8" height="65.08"/><rect x="1097.30" y="2016.23" width="17.8" height="62.47"/><rect x="1119.55" y="2016.23" width="17.8" height="62.47"/><rect x="1141.80" y="1992.80" width="17.8" height="85.90"/><rect x="1164.05" y="1992.80" width="17.8" height="85.90"/><rect x="1186.30" y="2029.24" width="17.8" height="49.46"/><rect x="1208.55" y="2031.85" width="17.8" height="46.85"/><rect x="1230.80" y="2068.29" width="17.8" height="10.41"/><rect x="1253.05" y="2076.10" width="17.8" height="2.60"/><rect x="1297.55" y="2070.89" width="17.8" height="7.81"/></g>
<rect x="1034.15" y="1507" width="278.3" height="90.3" fill="#fff" fill-opacity="0.15" stroke="#7a7a7a" stroke-width="1.3"/>
<text x="1301.25" y="1543.3" font-size="29.9" text-anchor="end">Mean MOI: 4.32</text>
<text x="1301.25" y="1580" font-size="29.9" text-anchor="end">Median MOI: 3.00</text>
<rect x="923.45" y="1485.3" width="410.2" height="621.00" fill="none" stroke="#4d4d4d" stroke-width="1.2"/>
<rect x="923.45" y="1448.6" width="410.2" height="36.70" fill="#D0D0D0" stroke="#4d4d4d" stroke-width="1.2"/>
<text x="1128.55" y="1475.6" font-size="25.0" fill="#1A1A1A" text-anchor="middle">Asymptomatic infected participants</text>
<path d="M928.20 2106.3v4.6M1039.45 2106.3v4.6M1150.70 2106.3v4.6M1261.95 2106.3v4.6" stroke="#333" stroke-width="1.3" fill="none"/>
<g font-size="25" class="tk" fill="#4D4D4D" text-anchor="middle"><text x="928.20" y="2132.8">0</text><text x="1039.45" y="2132.8">5</text><text x="1150.70" y="2132.8">10</text><text x="1261.95" y="2132.8">15</text></g>
<path d="M84.05 2078.70h-4.9M84.05 1948.55h-4.9M84.05 1818.40h-4.9M84.05 1688.25h-4.9M84.05 1558.10h-4.9" stroke="#333" stroke-width="1.3" fill="none"/>
<g font-size="25" class="tk" fill="#4D4D4D" text-anchor="end"><text x="75.8" y="2087.80">0</text><text x="75.8" y="1957.65">50</text><text x="75.8" y="1827.50">100</text><text x="75.8" y="1697.35">150</text><text x="75.8" y="1567.20">200</text></g>
<text x="709.3" y="2164.6" font-size="31.2" text-anchor="middle">Multiplicity of infection</text>
<text transform="translate(22.9 1796.1) rotate(-90)" font-size="31.3" text-anchor="middle">Number of samples</text>
</svg>
</body></html>
